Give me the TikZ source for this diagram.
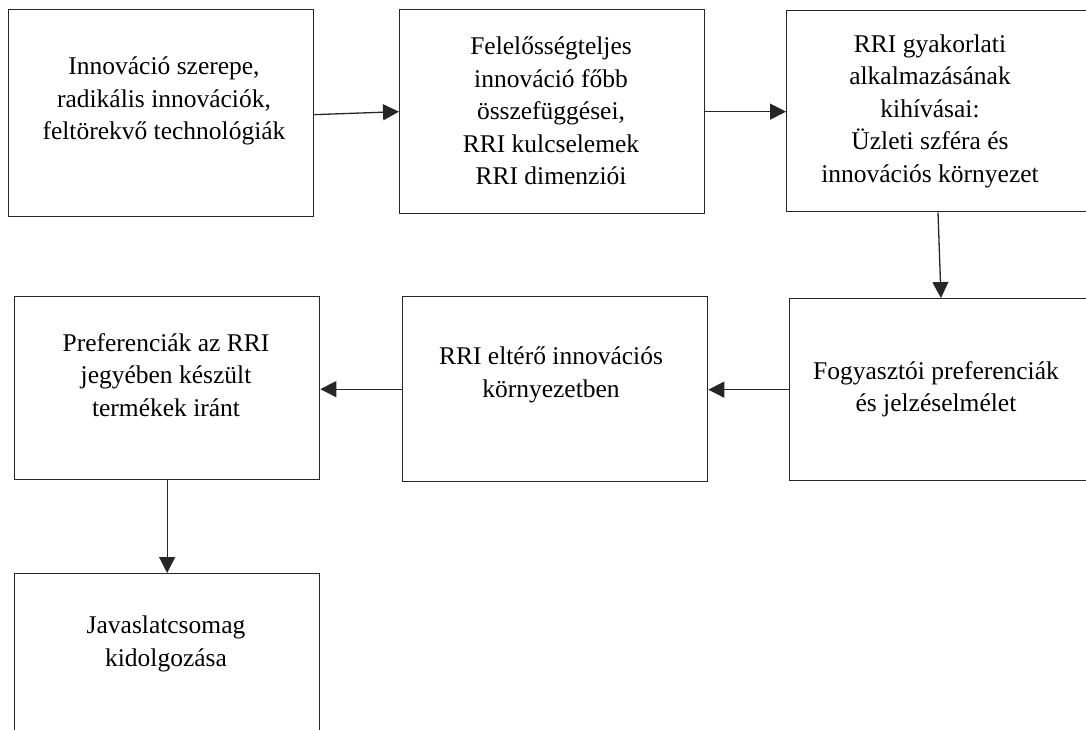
\documentclass[tikz,border=0pt]{standalone}
\usepackage{fontspec}
\setmainfont{Liberation Serif}
\usetikzlibrary{arrows.meta}

\tikzset{
  box/.style={draw=black!85, line width=1.3pt, rectangle, inner sep=0pt,
              anchor=north west, minimum width=305pt},
  txt/.style={align=center, inner sep=0pt,
              font=\fontsize{25.5}{32.5}\selectfont},
  arr/.style={draw=black!85, line width=1.3pt,
              -{Triangle[length=16pt,width=16pt]}}
}

\begin{document}
\begin{tikzpicture}[x=1pt, y=-1pt]
  \useasboundingbox (0,0) rectangle (1086,729);
  \clip (0,0) rectangle (1086,729);

  % frames, positioned by their upper left corners
  \node[box, minimum height=207pt] (b1) at (8,9) {};
  \node[box, minimum height=204pt] (b2) at (399,9) {};
  \node[box, minimum height=201pt] (b3) at (786,10) {};
  \node[box, minimum height=182pt] (b4) at (789,298) {};
  \node[box, minimum height=185pt] (b5) at (402,296) {};
  \node[box, minimum height=183pt] (b6) at (14,296) {};
  \node[box, minimum height=170pt] (b7) at (14,573) {};

  % box texts
  \node[txt] (t1) at (164,101) {Innováció szerepe,\\radikális innovációk,\\feltörekvő technológiák};
  \node[txt] (t2) at (551,111) {Felelősségteljes\\innováció főbb\\összefüggései,\\RRI kulcselemek\\RRI dimenziói};
  \node[txt] (t3) at (930,111) {RRI gyakorlati\\alkalmazásának\\kihívásai:\\Üzleti szféra és\\innovációs környezet};
  \node[txt] (t4) at (936,389) {Fogyasztói preferenciák\\és jelzéselmélet};
  \node[txt] (t5) at (551,375) {RRI eltérő innovációs\\környezetben};
  \node[txt] (t6) at (166,375) {Preferenciák az RRI\\jegyében készült\\termékek iránt};
  \node[txt] (t7) at (166,644) {Javaslatcsomag\\kidolgozása};

  % connectors
  \draw[arr] ([yshift=-1.5pt]b1.east) -- (b2.west);
  \draw[arr] (b2.east) -- (b2.east -| b3.west);
  \draw[arr] ([xshift=152pt]b3.south west) -- ([xshift=152pt]b4.north west);
  \draw[arr] (b4.west) -- (b4.west -| b5.east);
  \draw[arr] (b5.west) -- (b5.west -| b6.east);
  \draw[arr] (b6.south) -- (b6.south |- b7.north);
\end{tikzpicture}
\end{document}
